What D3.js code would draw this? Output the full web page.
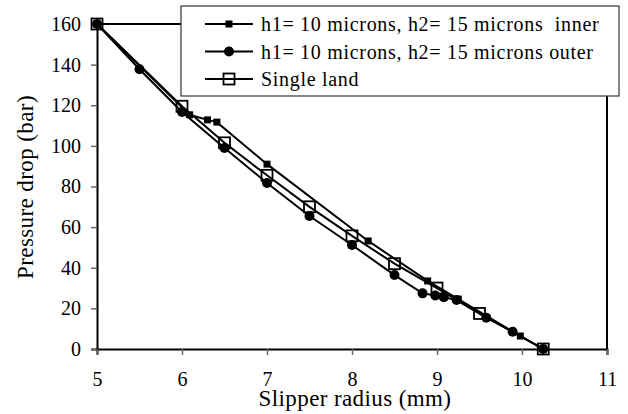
<!DOCTYPE html>
<html>
<head>
<meta charset="utf-8">
<script src="https://cdn.jsdelivr.net/npm/d3@7"></script>
<style>
  body { margin: 0; background: #fff; }
  svg text { font-family: "Liberation Serif", "Times New Roman", Tinos, "DejaVu Serif", serif; fill: #000; }
</style>
</head>
<body>
<script>
// Data
const innerX = [5, 6.09, 6.3, 6.41, 7.0, 8.19, 8.89, 9.25, 9.98, 10.25]
const innerY = [160, 115.3, 112.8, 111.7, 91, 53.2, 33.5, 24.6, 6.4, 0]

const outerX = [5, 5.5, 6.0, 6.5, 7.0, 7.5, 8.0, 8.5, 8.83, 8.98, 9.08, 9.23, 9.58, 9.89, 10.25]
const outerY = [160, 137.7, 116.7, 99, 81.7, 65.5, 51.2, 36.4, 27.4, 26.3, 25.5, 24.1, 15.4, 8.5, 0]

const singleX = [5, 6.0, 6.5, 7.0, 7.5, 8.0, 8.5, 9.0, 9.5, 10.25]
const singleY = [160, 119.5, 101.5, 85.5, 70, 55.7, 42, 30, 17.5, 0]

const xTicks = [5, 6, 7, 8, 9, 10, 11]
const yTicks = [0, 20, 40, 60, 80, 100, 120, 140, 160]

const seriesNames = [
  'h1= 10 microns, h2= 15 microns\u00a0 inner',
  'h1= 10 microns, h2= 15 microns outer',
  'Single land',
]

const serif = '"Liberation Serif", "Times New Roman", Tinos, "DejaVu Serif", serif'

const width = 628
const height = 414
const margin = { top: 24, right: 21, bottom: 65, left: 97 }

const svg = d3.select('body').append('svg')
  .attr('width', width)
  .attr('height', height)

const x = d3.scaleLinear().domain([5, 11]).range([margin.left, width - margin.right])
const y = d3.scaleLinear().domain([0, 160]).range([height - margin.bottom, margin.top])

// Plot frame (top and right)
svg.append('line')
  .attr('x1', x(5)).attr('x2', x(11))
  .attr('y1', y(160)).attr('y2', y(160))
  .attr('stroke', '#000').attr('stroke-width', 2)
svg.append('line')
  .attr('x1', x(11)).attr('x2', x(11))
  .attr('y1', y(160)).attr('y2', y(0))
  .attr('stroke', '#000').attr('stroke-width', 2)

// Axes
const yAxis = svg.append('g')
  .attr('transform', `translate(${x(5)},0)`)
  .call(d3.axisLeft(y).tickValues(yTicks).tickFormat(d3.format('d')).tickSize(6).tickPadding(10))
const xAxis = svg.append('g')
  .attr('transform', `translate(0,${y(0)})`)
  .call(d3.axisBottom(x).tickValues(xTicks).tickFormat(d3.format('d')).tickSize(6).tickPadding(17))

;[xAxis, yAxis].forEach(ax => {
  ax.attr('font-family', serif).attr('font-size', 20)
  ax.select('.domain').attr('stroke', '#000').attr('stroke-width', 2)
  ax.selectAll('.tick line').attr('stroke', '#666').attr('stroke-width', 1.5)
  ax.selectAll('.tick text')
    .style('font-family', serif)
    .style('font-size', '20px')
    .attr('fill', '#000')
})

// Axis titles
svg.append('text')
  .attr('x', 355).attr('y', 406)
  .attr('text-anchor', 'middle')
  .style('font-family', serif)
  .style('font-size', '23px')
  .style('letter-spacing', '0.4px')
  .text('Slipper radius (mm)')

svg.append('text')
  .attr('transform', 'translate(33,187) rotate(-90)')
  .attr('text-anchor', 'middle')
  .style('font-family', serif)
  .style('font-size', '23px')
  .style('letter-spacing', '0.4px')
  .text('Pressure drop (bar)')

const line = d3.line().x(d => x(d[0])).y(d => y(d[1]))

function drawSeries(xs, ys, marker) {
  const pts = xs.map((v, i) => [v, ys[i]])
  svg.append('path')
    .datum(pts)
    .attr('d', line)
    .attr('fill', 'none')
    .attr('stroke', '#000')
    .attr('stroke-width', 2)
  pts.forEach(p => marker(svg, x(p[0]), y(p[1])))
}

function smallSquare(g, cx, cy) {
  g.append('rect')
    .attr('x', cx - 3.5).attr('y', cy - 3.5)
    .attr('width', 7).attr('height', 7)
    .attr('fill', '#000')
}
function dot(g, cx, cy) {
  g.append('circle')
    .attr('cx', cx).attr('cy', cy).attr('r', 5)
    .attr('fill', '#000')
}
function openSquare(g, cx, cy) {
  g.append('rect')
    .attr('x', cx - 5.5).attr('y', cy - 5.5)
    .attr('width', 11).attr('height', 11)
    .attr('fill', 'none')
    .attr('stroke', '#000').attr('stroke-width', 1.8)
}

drawSeries(singleX, singleY, openSquare)
drawSeries(outerX, outerY, dot)
drawSeries(innerX, innerY, smallSquare)

// Legend
const legend = svg.append('g').attr('transform', 'translate(181,6)')
legend.append('rect')
  .attr('width', 438).attr('height', 90)
  .attr('fill', '#fff')
  .attr('stroke', '#333').attr('stroke-width', 1.2)

const markers = [smallSquare, dot, openSquare]
seriesNames.forEach((name, i) => {
  const ly = 18 + i * 27.5
  legend.append('line')
    .attr('x1', 24).attr('x2', 72)
    .attr('y1', ly).attr('y2', ly)
    .attr('stroke', '#000').attr('stroke-width', 2)
  markers[i](legend, 48, ly)
  legend.append('text')
    .attr('x', 80).attr('y', ly + 7)
    .style('font-family', serif)
    .style('font-size', '20px')
    .style('letter-spacing', '0.7px')
    .text(name)
})
</script>
</body>
</html>
